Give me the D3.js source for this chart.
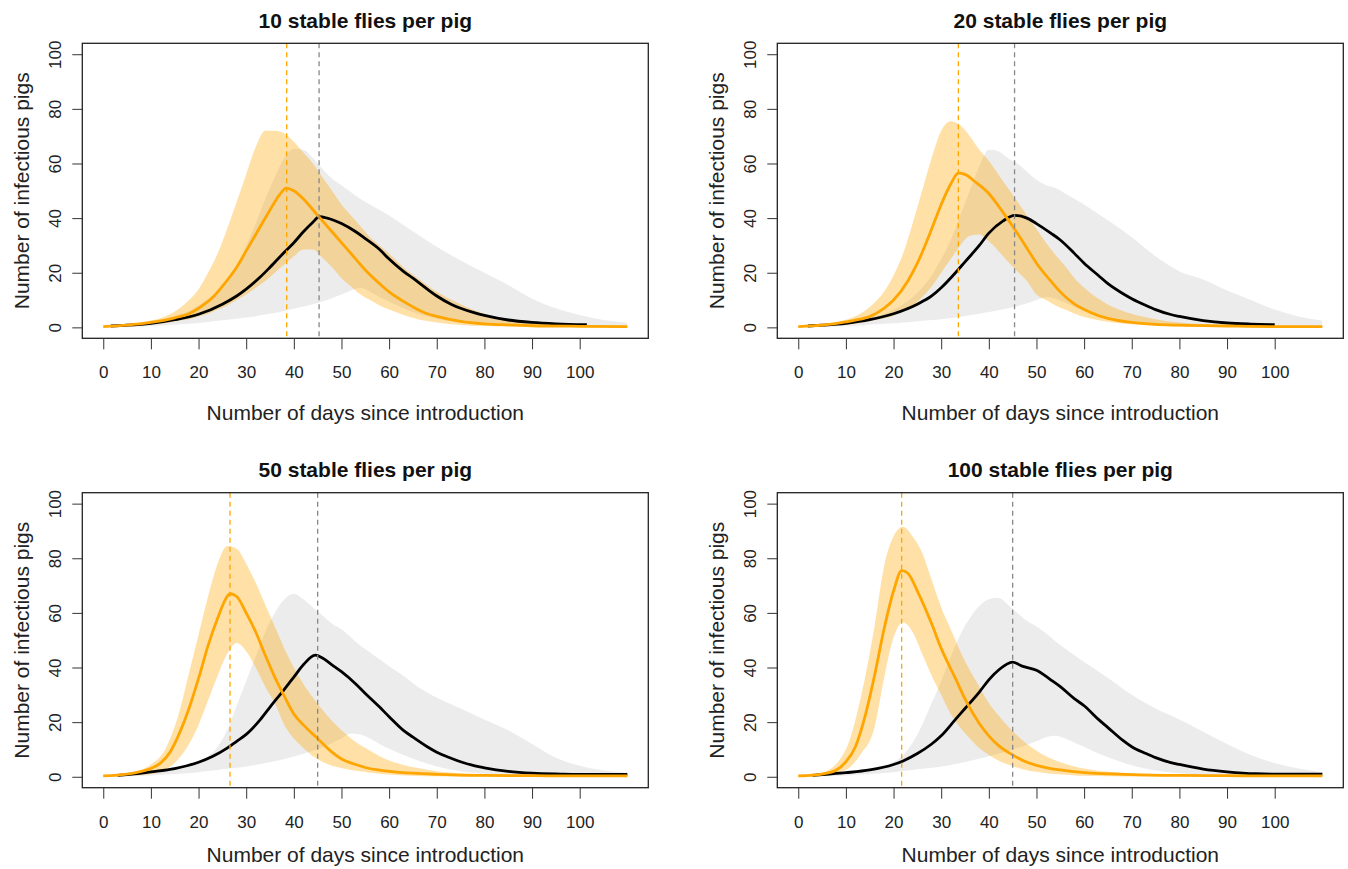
<!DOCTYPE html>
<html>
<head>
<meta charset="utf-8">
<script src="https://cdn.jsdelivr.net/npm/d3@7"></script>
<style>
body { margin: 0; background: #fff; }
text { font-family: "Liberation Sans", Arial, Helvetica, sans-serif; }
</style>
</head>
<body>
<svg id="chart"></svg>
<script>
// panel titles
var titles = ["10 stable flies per pig", "20 stable flies per pig",
              "50 stable flies per pig", "100 stable flies per pig"];

var xTicks = [0, 10, 20, 30, 40, 50, 60, 70, 80, 90, 100];
var yTicks = [0, 20, 40, 60, 80, 100];

// days at which the 95% bands were read
var bandDays = [0,5,10,13,16,18,20,22,24,26,28,30,32,34,36,38,40,42,44,46,48,50,52,54,56,58,60,63,66,70,75,80,85,90,95,100,105,110];

// ---- 10 flies ----
var fly10Hi = [0.5,1,2.5,4,7,10,14,20,27,36,46,56,66,72,72,71,68,64,60,55,50,45,41,37,33,30,27,22,18,13,8.5,5,3,2,1.3,1,0.8,0.7];
var fly10Lo = [0,0.3,1,1.5,2.5,3,4,5,6.5,8,10,12,14.5,17,20,23,26,28.5,28.5,25.5,22,18,15,12,10,8,6.5,4.5,3,1.8,0.9,0.5,0.3,0.2,0.1,0.1,0.1,0.1];
var base10Hi = [0.5,1,2,3,4.5,6,8,10.5,13,16,22,30,38,47,55,62,65.5,65,62,58,54.5,52,49.5,47,45,43,41,37.5,34,29.5,24.5,20,15.5,10.5,7,4.5,2.7,1.7];
var base10Lo = [0,0.2,0.5,0.8,1.1,1.3,1.6,2,2.4,2.8,3.2,3.6,4.1,4.7,5.3,6,6.8,7.6,8.5,9.5,10.7,12,13.5,14.5,13,11,9.5,7,5,3.2,1.8,1,0.6,0.4,0.3,0.2,0.1,0.1];
var fly10Med = [[0,0.3],[5,0.8],[10,1.8],[15,3.5],[18,5],[20,7],[23,11],[25,15],[28,22],[30,28],[33,37],[35,43],[37,48.5],[38.4,51],[40,50],[42,47],[45,41],[48,35],[50,31],[53,25],[55,21],[58,16],[60,13],[63,9.5],[65,7.5],[68,5],[70,4],[75,2.2],[80,1.3],[85,0.9],[90,0.6],[100,0.4],[110,0.3]];
var base10Med = [[1.6,0.5],[5,0.8],[10,1.5],[15,2.8],[20,4.8],[25,8.5],[28,11.5],[30,14],[33,18.5],[35,22],[38,27.5],[40,31],[42,35],[44,38.5],[45.3,40.5],[47,40],[50,38],[53,35],[55,32.5],[58,28.5],[60,25],[63,20.5],[65,18],[68,14],[70,11.5],[73,8.5],[75,7],[78,5.3],[80,4.4],[85,2.7],[90,1.8],[95,1.3],[101.5,1]];

// ---- 20 flies ----
var fly20Hi = [0.5,1,2.8,5,9,13,19,27,38,50,62,72,75.5,74,70,65,61,56,51,46,41,36,31,26.5,22.5,18,14.5,10.5,7.5,5,3,1.8,1.2,0.9,0.7,0.6,0.5,0.5];
var fly20Lo = [0,0.3,1,1.6,2.6,3.3,4.3,6,8,11,15,20,25,30,33.5,34,31.5,28,24,20.5,17,12,10,8,6.5,5,3.8,2.6,1.8,1.1,0.6,0.3,0.2,0.1,0.1,0.1,0.1,0.1];
var base20Hi = [0.5,1,2,3,4,5,6.5,8.5,11,14.5,19,25,32,41,50,59,65,64.5,62,60,57,54,52,51,49,47,45,41.5,38,33,26,20.5,17.5,13.5,10,6.5,4,2.5];
var base20Lo = [0,0.2,0.5,0.8,1.1,1.3,1.5,1.8,2.1,2.4,2.7,3,3.4,3.9,4.4,5,5.6,6.3,7,7.8,8.8,10,11,10.5,9,7.5,6.3,4.8,3.5,2.2,1.3,0.8,0.5,0.3,0.2,0.1,0.1,0.1];
var fly20Med = [[0,0.3],[5,0.8],[10,2],[13,3],[15,4],[18,7],[20,10],[23,17],[25,23.5],[28,36],[30,45],[32,52.5],[33.6,56.5],[35,56],[37,53.5],[40,49],[42,44.5],[45,37],[48,29],[50,23.5],[53,17],[55,13],[58,8.5],[60,6.5],[63,4.3],[65,3.3],[70,1.8],[75,1.1],[80,0.8],[90,0.5],[100,0.3],[110,0.3]];
var base20Med = [[2,0.5],[5,0.8],[10,1.5],[15,2.8],[20,5],[25,8.5],[28,11.5],[30,14.5],[33,20],[35,24],[38,30],[40,34.5],[43,39],[45.4,41],[48,40],[50,38],[53,34.5],[55,32],[58,27],[60,23.5],[63,19],[65,16],[68,12.5],[70,10.5],[73,8],[75,6.5],[78,4.8],[80,4],[85,2.5],[90,1.6],[95,1.2],[100,1]];

// ---- 50 flies ----
var fly50Hi = [0.5,1.2,4.5,10,24,38,52,66,78,84.5,83.5,78,71,63,55,47,40,34,29,24.5,20.5,17,14,11.5,9.5,7.5,6,4.3,3.2,2,1.3,1,0.8,0.6,0.5,0.5,0.4,0.4];
var fly50Lo = [0,0.3,1,2.5,7,12,19,28,37,45,49,46,40,33,27,19,14,10.5,7.5,5.5,4,3.2,2.5,2,1.5,1.1,0.8,0.5,0.3,0.2,0.1,0.1,0,0,0,0,0,0];
var base50Hi = [0.3,0.8,1.5,2.2,3.3,4.2,5.5,7.5,11,17,26,35,44,53,60,65,67,65,62,59,56,54,51,48,45.5,43,40.5,37,33,29,25,21,17,12,7,4,2.3,1.5];
var base50Lo = [0,0.2,0.5,0.8,1.1,1.4,1.7,2.1,2.5,2.9,3.3,3.8,4.3,5,5.7,6.5,7.4,8.4,9.5,10.8,12.3,14,15.8,15.5,14,12,10.3,8,6,3.8,2,1.1,0.7,0.4,0.2,0.1,0.1,0.1];
var fly50Med = [[0,0.3],[5,1],[8,2],[10,3],[12,5],[14,9],[16,16],[18,25],[20,36],[22,48],[24,58],[26,66],[26.6,67],[28,66],[30,60],[32,53],[34,44.5],[36,36.5],[38,29.5],[40,23],[42,19],[45,14],[48,9],[50,6.5],[53,4.5],[55,3.4],[58,2.4],[60,2],[65,1.3],[70,0.9],[80,0.5],[90,0.4],[100,0.3],[110,0.3]];
var base50Med = [[3,0.5],[5,0.8],[10,1.8],[15,3],[20,5.3],[23,7.5],[26,10.5],[28,13],[30,15.5],[33,21],[35,25.5],[38,32],[40,36.5],[42,41],[44.5,44.5],[46,43.5],[48,41],[50,38.5],[53,34],[55,30.5],[58,25.5],[60,22],[63,17],[65,14.5],[68,11],[70,9],[73,6.8],[75,5.5],[78,4],[80,3.3],[85,2],[90,1.3],[96,1],[100,0.9],[110,0.9]];

// ---- 100 flies ----
var fly100Hi = [0.5,1.5,10,28,55,77,88,91.5,88,82,72,62,54,46,39,33,27,22.5,18.5,15,12,9.5,7.5,6,4.8,3.8,3,2.2,1.7,1.2,0.9,0.7,0.6,0.5,0.5,0.5,0.5,0.5];
var fly100Lo = [0,0.3,2.5,8,18,36,51,56.5,53,45,37,30,23,18,14,10.5,8,6,4.5,3.3,2.4,1.8,1.3,1,0.7,0.5,0.4,0.3,0.2,0.1,0.1,0.1,0.1,0.1,0.1,0.1,0.1,0.1];
var base100Hi = [0.3,0.8,1.5,2.2,3.3,4.2,5.5,8,12.5,19,27,35,44,52,58,62.5,65,65.5,63,60,57,55,52.5,49.5,47,44.5,42,38.5,35,30,25,21,16.5,12,8,5,3,1.7];
var base100Lo = [0,0.2,0.5,0.8,1.1,1.4,1.7,2.1,2.5,2.9,3.3,3.8,4.3,5,5.8,6.6,7.5,8.4,9.4,10.5,11.7,13,14.5,15,14,12.5,11,8.5,6.5,4.2,2.3,1.3,0.8,0.5,0.3,0.2,0.1,0.1];
var fly100Med = [[0,0.3],[3,0.6],[5,1],[8,2.5],[10,5.5],[12,11],[14,22],[16,37],[18,54],[20,68],[21.7,75.5],[23,74.5],[25,68],[28,56],[30,47],[33,36],[35,28.5],[38,19.5],[40,15],[42,11.5],[45,8],[48,5.3],[50,4.2],[53,3],[55,2.5],[60,1.5],[65,1.1],[70,0.8],[80,0.5],[90,0.4],[100,0.3],[110,0.3]];
var base100Med = [[3,0.5],[5,0.8],[10,1.5],[15,2.5],[20,4.5],[22,5.8],[25,8.5],[28,12],[30,15],[33,21],[35,25],[38,31],[40,35.5],[42,39],[45,42],[47,40.5],[50,39],[53,35.5],[55,33],[58,28.5],[60,26],[63,21],[65,18],[68,13.5],[70,11],[73,8.5],[75,7],[78,5.3],[80,4.5],[85,2.8],[90,1.8],[96,1.1],[100,1],[110,1]];

// days of the median peaks (dashed lines)
var flyPeak = [38.5, 33.6, 26.6, 21.7];
var basePeak = [45.3, 45.4, 45.0, 45.0];

var panels = [
  {fHi: fly10Hi, fLo: fly10Lo, bHi: base10Hi, bLo: base10Lo, fMed: fly10Med, bMed: base10Med},
  {fHi: fly20Hi, fLo: fly20Lo, bHi: base20Hi, bLo: base20Lo, fMed: fly20Med, bMed: base20Med},
  {fHi: fly50Hi, fLo: fly50Lo, bHi: base50Hi, bLo: base50Lo, fMed: fly50Med, bMed: base50Med},
  {fHi: fly100Hi, fLo: fly100Lo, bHi: base100Hi, bLo: base100Lo, fMed: fly100Med, bMed: base100Med}
];

var screen = {width: 1348, height: 869};
var svg = d3.select("#chart")
  .attr("width", screen.width)
  .attr("height", screen.height);

var boxW = 566, boxH = 295;
var origins = [
  {x: 82.3, y: 43.3, row: 0},
  {x: 777.3, y: 43.3, row: 0},
  {x: 82.3, y: 492.7, row: 1},
  {x: 777.3, y: 492.7, row: 1}
];
var xTitleGap = [82, 74.5];

// R style: limits 0..110 and 0..100 padded by 4%
var xScale = d3.scaleLinear().domain([-4.4, 114.4]).range([0, boxW]);
var yScale = d3.scaleLinear().domain([-4, 104]).range([boxH, 0]);

var idx = d3.range(bandDays.length);

var drawPanel = function(p, o, i) {
  var g = svg.append("g")
    .attr("transform", "translate(" + o.x + "," + o.y + ")");

  var band = function(lo, hi) {
    return d3.area()
      .x(function(k) { return xScale(bandDays[k]); })
      .y0(function(k) { return yScale(lo[k]); })
      .y1(function(k) { return yScale(hi[k]); })
      .curve(d3.curveMonotoneX)(idx);
  };
  var line = d3.line()
    .x(function(d) { return xScale(d[0]); })
    .y(function(d) { return yScale(d[1]); })
    .curve(d3.curveMonotoneX);

  g.append("path").attr("d", band(p.bLo, p.bHi))
    .attr("fill", "rgb(128,128,128)").attr("fill-opacity", 0.15);
  g.append("path").attr("d", band(p.fLo, p.fHi))
    .attr("fill", "orange").attr("fill-opacity", 0.35);

  g.append("path").attr("d", line(p.bMed))
    .attr("fill", "none").attr("stroke", "#000").attr("stroke-width", 2.8);
  g.append("path").attr("d", line(p.fMed))
    .attr("fill", "none").attr("stroke", "#FFA500").attr("stroke-width", 2.8);

  // peak markers
  g.append("line")
    .attr("x1", xScale(flyPeak[i])).attr("x2", xScale(flyPeak[i]))
    .attr("y1", 0).attr("y2", boxH)
    .attr("stroke", "#FFA500").attr("stroke-width", 1.3).attr("stroke-dasharray", "5,4");
  g.append("line")
    .attr("x1", xScale(basePeak[i])).attr("x2", xScale(basePeak[i]))
    .attr("y1", 0).attr("y2", boxH)
    .attr("stroke", "#888").attr("stroke-width", 1.3).attr("stroke-dasharray", "5,4");

  // box
  g.append("rect").attr("width", boxW).attr("height", boxH)
    .attr("fill", "none").attr("stroke", "#222").attr("stroke-width", 1.3);

  // axes
  var xAxis = d3.axisBottom(xScale).tickValues(xTicks).tickSize(11).tickFormat(d3.format("d"));
  var gx = g.append("g").attr("transform", "translate(0," + boxH + ")").call(xAxis);
  gx.select(".domain").remove();
  gx.selectAll("line").attr("stroke", "#333");
  gx.selectAll("text").attr("y", 40).attr("dy", null)
    .attr("fill", "#222").style("font-size", "17px")
    .style("font-family", "'Liberation Sans', Arial, sans-serif");

  var yAxis = d3.axisLeft(yScale).tickValues(yTicks).tickSize(10);
  var gy = g.append("g").call(yAxis);
  gy.select(".domain").remove();
  gy.selectAll("line").attr("stroke", "#333");
  gy.selectAll("text")
    .attr("x", null).attr("dy", null)
    .attr("transform", "translate(-21,0) rotate(-90)")
    .attr("text-anchor", "middle")
    .attr("fill", "#222").style("font-size", "17px")
    .style("font-family", "'Liberation Sans', Arial, sans-serif");

  g.append("text")
    .attr("x", boxW / 2).attr("y", -15.8)
    .attr("text-anchor", "middle")
    .style("font-size", "21px").style("font-weight", "bold")
    .attr("fill", "#111")
    .text(titles[i]);

  g.append("text")
    .attr("x", boxW / 2).attr("y", boxH + xTitleGap[o.row])
    .attr("text-anchor", "middle")
    .style("font-size", "21px").attr("fill", "#222")
    .text("Number of days since introduction");

  g.append("text")
    .attr("transform", "translate(-53," + (boxH / 2) + ") rotate(-90)")
    .attr("text-anchor", "middle")
    .style("font-size", "21px").attr("fill", "#222")
    .text("Number of infectious pigs");
};

panels.forEach(function(p, i) { drawPanel(p, origins[i], i); });
</script>
</body>
</html>
